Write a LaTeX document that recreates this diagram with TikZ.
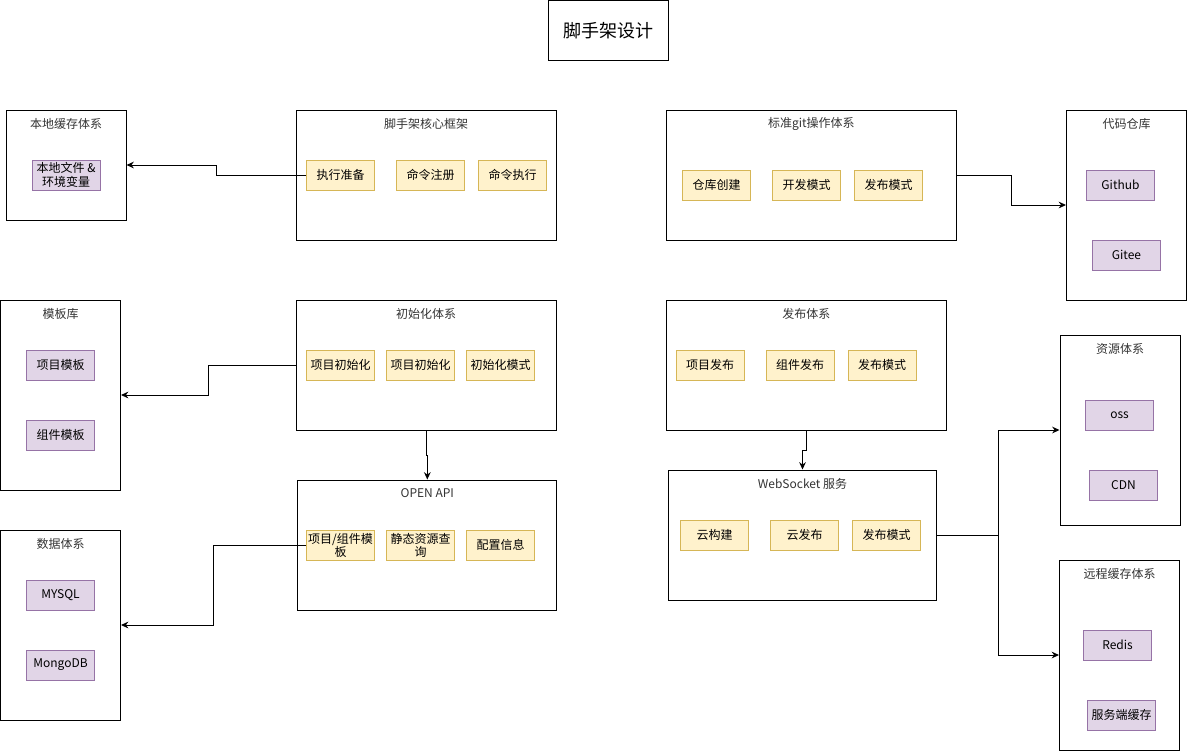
\documentclass[tikz,border=0pt]{standalone}
\usepackage{fontspec}
\setmainfont{Noto Sans CJK SC}
\usetikzlibrary{arrows.meta,calc}
\definecolor{modfill}{HTML}{FFF2CC}
\definecolor{modline}{HTML}{D6B656}
\definecolor{storefill}{HTML}{E1D5E7}
\definecolor{storeline}{HTML}{9673A6}
\definecolor{titlegray}{HTML}{333333}
\tikzset{
  sysbox/.style={draw, line width=0.75pt, inner sep=0pt},
  systitle/.style={label={[anchor=center,yshift=-10.5pt,text=titlegray,
    font=\fontsize{9}{10}\selectfont]north:#1}},
  modbox/.style={draw=modline, fill=modfill, line width=0.75pt, inner sep=0pt,
    minimum width=51pt, minimum height=22.5pt, align=center,
    font=\fontsize{9}{9.75}\selectfont},
  storebox/.style={draw=storeline, fill=storefill, line width=0.75pt, inner sep=0pt,
    minimum width=51pt, minimum height=22.5pt, align=center,
    font=\fontsize{9}{10}\selectfont},
}
\begin{document}
\begin{tikzpicture}[x=0.75pt,y=-0.75pt]
      \useasboundingbox (0,0) rectangle (1187,751);
      \draw
        (608,30.5) node[sysbox, minimum width=90pt, minimum height=45pt,
          font=\fontsize{13.5}{15}\selectfont] (title){脚手架设计}
        (66,165) node[sysbox, minimum width=90pt, minimum height=82.5pt, systitle=本地缓存体系] (local){}
        (426,175) node[sysbox, minimum width=195pt, minimum height=97.5pt, systitle=脚手架核心框架] (core){}
        (811.4,175) node[sysbox, minimum width=217.5pt, minimum height=97.5pt, systitle=标准git操作体系] (git){}
        (1126.5,205) node[sysbox, minimum width=90pt, minimum height=142.5pt, systitle=代码仓库] (repo){}
        (60.5,395) node[sysbox, minimum width=90pt, minimum height=142.5pt, systitle=模板库] (tpl){}
        (426,365) node[sysbox, minimum width=195pt, minimum height=97.5pt, systitle=初始化体系] (init){}
        (806.3,365) node[sysbox, minimum width=210pt, minimum height=97.5pt, systitle=发布体系] (release){}
        (1120,430) node[sysbox, minimum width=90pt, minimum height=142.5pt, systitle=资源体系] (res){}
        (427.3,545) node[sysbox, minimum width=194pt, minimum height=97.5pt, systitle=OPEN API] (api){}
        (802.5,535) node[sysbox, minimum width=201pt, minimum height=97.5pt, systitle=WebSocket 服务] (ws){}
        (60.5,625) node[sysbox, minimum width=90pt, minimum height=142.5pt, systitle=数据体系] (data){}
        (1119.5,655) node[sysbox, minimum width=90pt, minimum height=142.5pt, systitle=远程缓存体系] (remote){};
      % modules and stores
      \draw
        (66,175) node[storebox] (localfile){本地文件 \&\\环境变量}
        (340.5,175) node[modbox] (exec){执行准备}
        (430.5,175) node[modbox] (reg){命令注册}
        (512.5,175) node[modbox] (run){命令执行}
        (716.5,185) node[modbox] (repocreate){仓库创建}
        (806.5,185) node[modbox] (dev){开发模式}
        (888.5,185) node[modbox] (gitpub){发布模式}
        (1120.5,185) node[storebox] (github){Github}
        (1126.5,255) node[storebox] (gitee){Gitee}
        (60.5,365) node[storebox] (tplproj){项目模板}
        (60.5,435) node[storebox] (tplcomp){组件模板}
        (340.5,365) node[modbox] (init1){项目初始化}
        (420.5,365) node[modbox] (init2){项目初始化}
        (500.5,365) node[modbox] (init3){初始化模式}
        (710,365) node[modbox] (rel1){项目发布}
        (800,365) node[modbox] (rel2){组件发布}
        (882,365) node[modbox] (rel3){发布模式}
        (1119.5,415) node[storebox] (oss){oss}
        (1123.5,485) node[storebox] (cdn){CDN}
        (340.5,545) node[modbox] (api1){项目/组件模\\板}
        (420.5,545) node[modbox] (api2){静态资源查\\询}
        (500.5,545) node[modbox] (api3){配置信息}
        (714.5,535) node[modbox] (build){云构建}
        (804.5,535) node[modbox] (cloudpub){云发布}
        (886.5,535) node[modbox] (wspub){发布模式}
        (1117.5,645) node[storebox] (redis){Redis}
        (1121.5,715) node[storebox] (srvcache){服务端缓存}
        (60.5,595) node[storebox] (mysql){MYSQL}
        (60.5,665) node[storebox] (mongo){MongoDB};
      \begin{scope}[-{Stealth[length=5.5pt,width=5pt]}, line width=0.75pt]
        \draw (exec.west) -| ($(exec.west)!.5!(local.east)$) |- (local.east);
        \draw (git.east) -| ($(git.east)!.5!(repo.west)$) |- (repo.west);
        \draw (init.west) -| ($(init.west)!.5!(tpl.east)$) |- (tpl.east);
        \draw (init.south) |- ($(init.south)!.5!(api.north)$) -| (api.north);
        \draw (api1.west) -| ($(api1.west)!.5!(data.east)$) |- (data.east);
        \draw (release.south) |- ($(release.south)!.5!(ws.north)$) -| (ws.north);
        \draw (ws.east) -| ($(ws.east)!.5!(res.west)$) |- (res.west);
        \draw (ws.east) -| ($(ws.east)!.5!(remote.west)$) |- (remote.west);
      \end{scope}
    \end{tikzpicture}
\end{document}
